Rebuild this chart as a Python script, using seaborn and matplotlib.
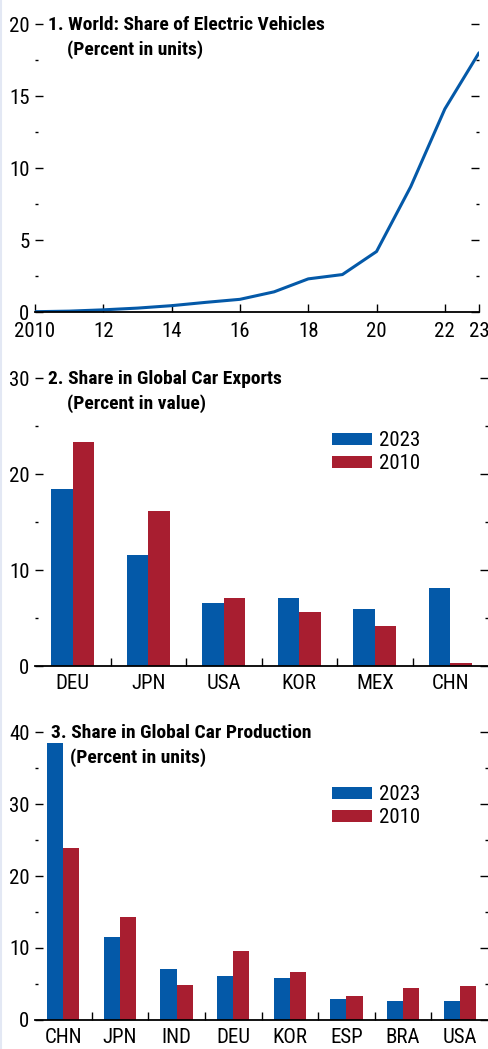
import matplotlib
matplotlib.use("Agg")
import matplotlib.pyplot as plt
import seaborn as sns
import pandas as pd
from matplotlib.ticker import MultipleLocator, FixedLocator

# panel 1: world share of electric vehicles
ev_years = [2010, 2011, 2012, 2013, 2014, 2015, 2016, 2017, 2018, 2019, 2020, 2021, 2022, 2023]
ev_share = [0.02, 0.06, 0.15, 0.27, 0.44, 0.67, 0.88, 1.4, 2.3, 2.6, 4.2, 8.7, 14.1, 18.0]
ev_ticks = [2010, 2012, 2014, 2016, 2018, 2020, 2022, 2023]
ev_ticklabels = ["2010", "12", "14", "16", "18", "20", "22", "23"]

# panel 2: share in global car exports
exp_countries = ["DEU", "JPN", "USA", "KOR", "MEX", "CHN"]
exp_2023 = [18.4, 11.6, 6.6, 7.1, 5.9, 8.1]
exp_2010 = [23.3, 16.1, 7.1, 5.6, 4.2, 0.3]

# panel 3: share in global car production
prod_countries = ["CHN", "JPN", "IND", "DEU", "KOR", "ESP", "BRA", "USA"]
prod_2023 = [38.5, 11.5, 7.1, 6.1, 5.8, 2.9, 2.6, 2.6]
prod_2010 = [23.9, 14.3, 4.8, 9.6, 6.6, 3.3, 4.4, 4.7]

BLUE = "#0459a8"
RED = "#a81e30"
W, H = 488, 1049
FS = 15       # tick labels / legend
FS_T = 14     # panel titles

sns.set_theme(style="ticks")
plt.rcParams["font.family"] = ["Roboto Condensed", "Archivo Narrow", "DejaVu Sans"]
plt.rcParams["font.size"] = FS
for k in ["text.color", "axes.labelcolor", "xtick.color", "ytick.color"]:
    plt.rcParams[k] = "black"


def style_axis(ax, ymax, major, minor):
    sns.despine(ax=ax, left=True, right=True, top=True)
    ax.spines["bottom"].set_linewidth(1.3)
    ax.spines["bottom"].set_color("black")
    ax.set_ylim(0, ymax)
    ax.yaxis.set_major_locator(MultipleLocator(major))
    ax.yaxis.set_minor_locator(MultipleLocator(minor))
    ax.tick_params(axis="y", which="both", left=True, right=True, direction="in",
                   width=1.0, color="black", labelsize=FS, pad=4)
    ax.tick_params(axis="y", which="major", length=6)
    ax.tick_params(axis="y", which="minor", length=2.5)
    ax.set_xlabel("")
    ax.set_ylabel("")


def titles(top_px, x_px, line1, line2):
    fig.text(x_px / W, 1 - top_px / H, line1, fontsize=FS_T, fontweight="bold",
             va="center", ha="left")
    fig.text((x_px + 19) / W, 1 - (top_px + 24) / H, line2, fontsize=FS_T,
             fontweight="bold", va="center", ha="left")


def bar_panel(ax, countries, v23, v10, ymax):
    df = pd.DataFrame({
        "country": countries * 2,
        "year": ["2023"] * len(countries) + ["2010"] * len(countries),
        "value": v23 + v10,
    })
    sns.barplot(data=df, x="country", y="value", hue="year", hue_order=["2023", "2010"],
                palette=[BLUE, RED], width=0.57, saturation=1, linewidth=0, ax=ax)
    style_axis(ax, ymax, 10, 5)
    n = len(countries)
    ax.set_xlim(-0.5, n - 0.5)
    ax.xaxis.set_minor_locator(FixedLocator([i + 0.5 for i in range(n - 1)]))
    ax.tick_params(axis="x", which="major", length=0, labelsize=FS, pad=6)
    ax.tick_params(axis="x", which="minor", bottom=True, direction="in", length=5.5,
                   width=1.0, color="black")
    ax.legend(loc="upper left", bbox_to_anchor=(0.656, 0.815), frameon=False,
              handlelength=1.9, handleheight=0.5, labelspacing=0.18,
              handletextpad=0.35, fontsize=FS, borderpad=0, borderaxespad=0)


fig = plt.figure(figsize=(W / 100, H / 100), dpi=100)

ax1 = fig.add_axes([35 / W, 1 - 312 / H, 444 / W, 288 / H])
sns.lineplot(x=ev_years, y=ev_share, color=BLUE, linewidth=2.2, ax=ax1)
style_axis(ax1, 20, 5, 2.5)
ax1.set_xlim(2010, 2023)
ax1.set_xticks(ev_ticks)
ax1.set_xticklabels(ev_ticklabels)
ax1.tick_params(axis="x", which="major", direction="in", length=5.5, width=1.0,
                color="black", labelsize=FS, pad=7)
titles(25.5, 48, "1. World: Share of Electric Vehicles", "(Percent in units)")

ax2 = fig.add_axes([35 / W, 1 - 666 / H, 453 / W, 288 / H])
bar_panel(ax2, exp_countries, exp_2023, exp_2010, 30)
titles(379.5, 48, "2. Share in Global Car Exports", "(Percent in value)")

ax3 = fig.add_axes([35 / W, 1 - 1019.7 / H, 453 / W, 287.4 / H])
bar_panel(ax3, prod_countries, prod_2023, prod_2010, 40)
titles(733.5, 51, "3. Share in Global Car Production", "(Percent in units)")

fig.add_artist(plt.Line2D([0.002, 0.002], [0, 1], color="#e3e8f4", linewidth=1.5,
                          transform=fig.transFigure))

fig.savefig("out.png", dpi=100)
